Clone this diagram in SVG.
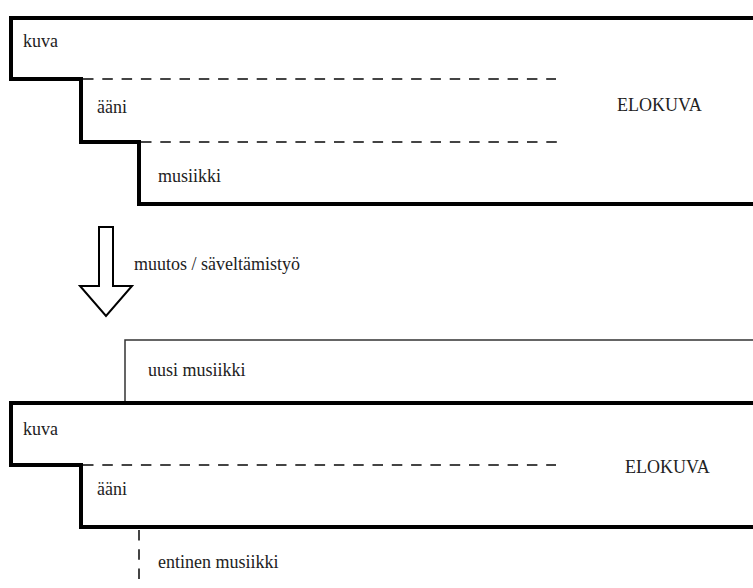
<svg xmlns="http://www.w3.org/2000/svg" width="753" height="588" viewBox="0 0 753 588">
<style>
text{font-family:'Liberation Serif','DejaVu Serif',serif;font-size:18px;fill:#222}
.thick{fill:none;stroke:#000;stroke-width:4;stroke-linejoin:miter}
.dash{fill:none;stroke:#444;stroke-width:2;stroke-dasharray:10.5 8.8}
.thin{fill:none;stroke:#333;stroke-width:1.5}
</style>
<rect width="753" height="588" fill="#fff"/>
<g id="elokuva-top">
<path class="thick" d="M760 18H11V79H81V142H139V204H760"/>
<text x="23" y="47">kuva</text>
<text x="97" y="113">ääni</text>
<text x="158" y="182">musiikki</text>
<text x="617" y="111">ELOKUVA</text>
</g>
<g id="arrow">
<polygon points="99,227 113,227 113,286 132,286 106,316 80,286 99,286" fill="#fff" stroke="#000" stroke-width="2"/>
<text x="134" y="270">muutos / säveltämistyö</text>
</g>
<g id="uusi">
<path class="thin" d="M125 402V340H760"/>
<text x="148" y="376">uusi musiikki</text>
</g>
<g id="elokuva-bottom">
<path class="thick" d="M760 403H11V465H81V527H760"/>
<text x="23" y="435">kuva</text>
<text x="97" y="495">ääni</text>
<text x="625" y="473">ELOKUVA</text>
</g>
<g id="entinen">
<text x="158" y="568">entinen musiikki</text>
</g>
<g id="connectors">
<line class="dash" x1="83" y1="79" x2="556" y2="79"/>
<line class="dash" x1="141" y1="142" x2="558" y2="142"/>
<line class="dash" x1="83" y1="465" x2="556" y2="465"/>
<line class="dash" x1="139" y1="530" x2="139" y2="588"/>
</g>
</svg>
